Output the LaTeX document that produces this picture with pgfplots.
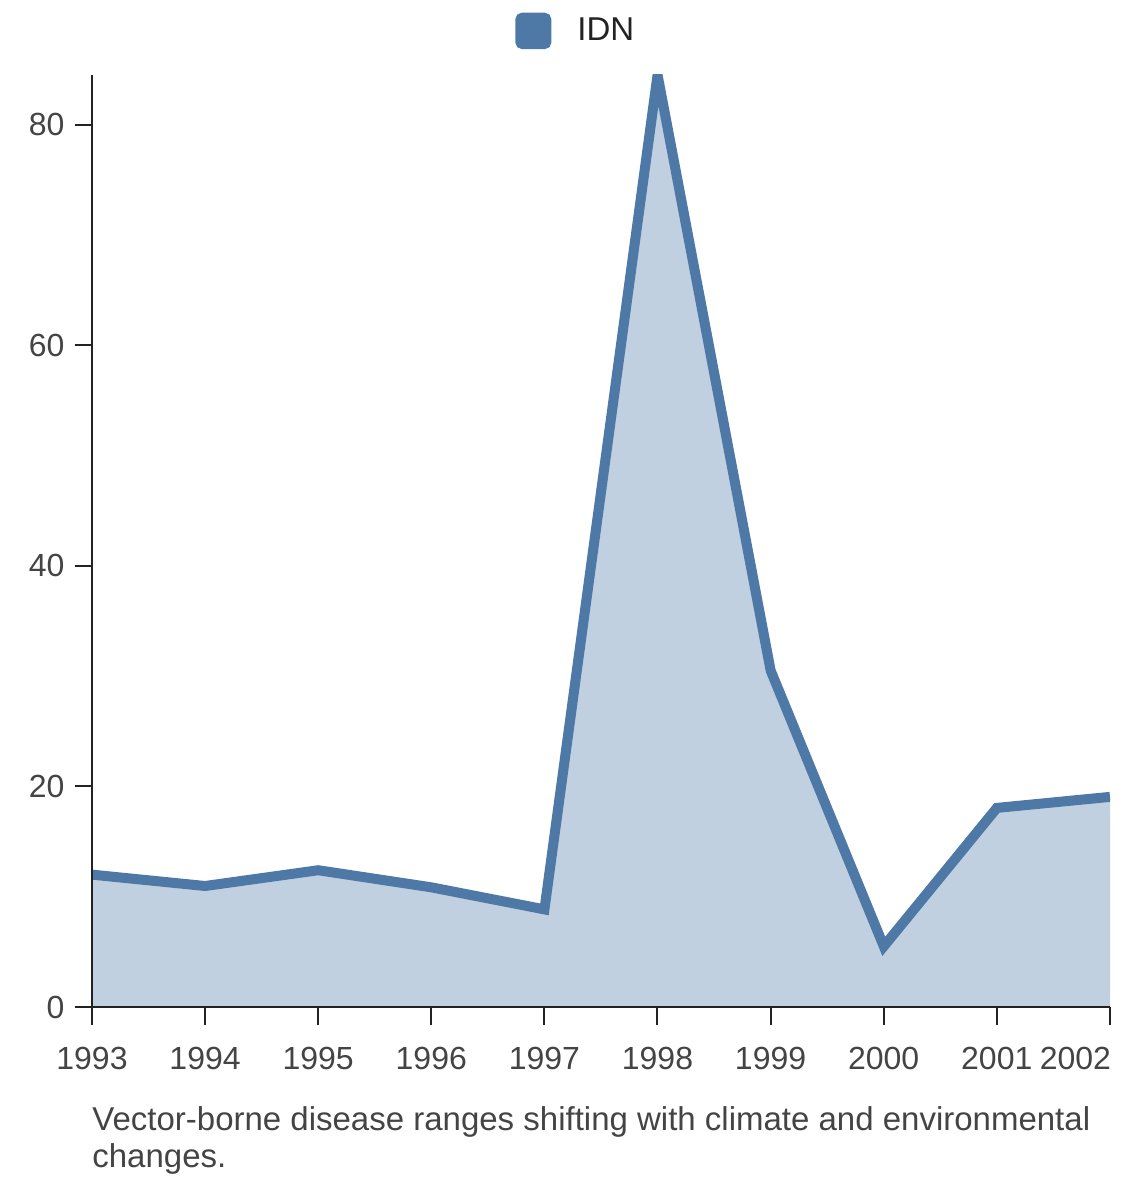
\documentclass[border=0pt]{standalone}
\usepackage{pgfplots}
\pgfplotsset{compat=1.18}
\usepackage{fontspec}
\setmainfont{Liberation Sans}
\definecolor{c1}{HTML}{4E79A7}
\definecolor{axc}{HTML}{222222}
\definecolor{txc}{HTML}{444444}
\begin{document}
\begin{tikzpicture}
\begin{axis}[
  at={(0,0)}, anchor=origin,
  scale only axis, width=509pt, height=466pt,
  xmin=1993, xmax=2002, ymin=0, ymax=84.5,
  xtick={1993,1994,...,2001}, ytick={0,20,40,60,80},
  extra x ticks={2002},
  extra x tick style={xticklabel style={anchor=north east, xshift=4pt}},
  axis x line*=bottom, axis y line*=left,
  axis line style={axc, line width=1pt},
  tick style={axc, line width=1pt},
  tick align=outside, major tick length=8.75pt,
  /pgf/number format/assume math mode=true,
  /pgf/number format/1000 sep={},
  tick label style={font=\fontsize{16}{19}\selectfont, text=txc},
  xticklabel style={yshift=-8pt},
  yticklabel style={xshift=-1.5pt},
  axis on top,
  legend style={draw=none, fill=none, at={(0.4155,1.0473)}, anchor=west, inner sep=0pt,
    font=\fontsize{16.5}{19}\selectfont, text=axc,
    /tikz/every even column/.style={column sep=0pt}},
  legend image code/.code={\fill[c1, rounded corners=1.2pt] (0pt,-6.6pt) rectangle (13pt,6.6pt);},
  legend cell align=left,
]
\addplot[fill=c1!35, draw=none, forget plot] coordinates {
(1993,12.0) (1994,10.97) (1995,12.4) (1996,10.85) (1997,8.85) (1998,84.5) (1999,30.5) (2000,5.5) (2001,18.05) (2002,19.05)
} \closedcycle;
\addplot[c1, line width=5pt, line join=miter] coordinates {
(1993,12.0) (1994,10.97) (1995,12.4) (1996,10.85) (1997,8.85) (1998,84.5) (1999,30.5) (2000,5.5) (2001,18.05) (2002,19.05)
};
\addlegendentry{\hspace{11pt}IDN}
\end{axis}
\node[anchor=north west, inner sep=0pt, align=left, font=\fontsize{16.5}{18.5}\selectfont, text=txc] at (0pt,-49.5pt)
  {Vector-borne disease ranges shifting with climate and environmental\\changes.};
\path[use as bounding box] (-46pt,-87.5pt) rectangle (524pt,503.5pt);
\end{tikzpicture}
\end{document}
